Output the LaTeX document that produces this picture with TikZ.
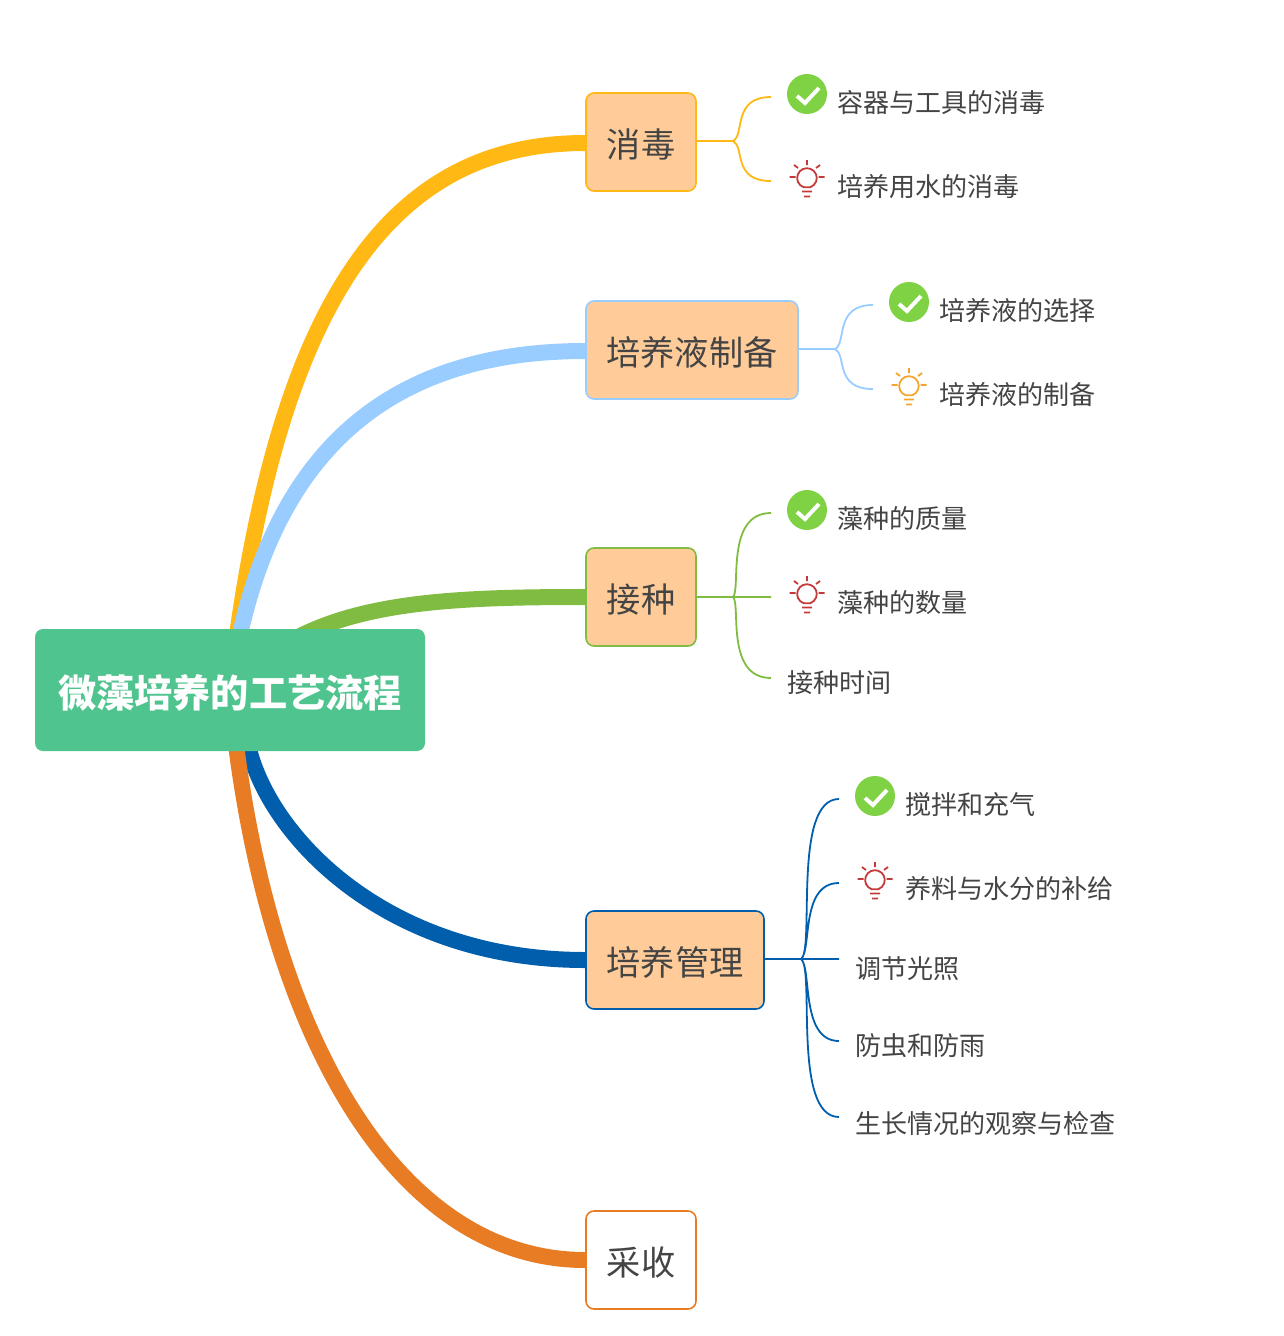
\documentclass[tikz,border=0pt]{standalone}
\usepackage{fontspec}
\setmainfont{Noto Sans CJK SC}
\usetikzlibrary{backgrounds}
\definecolor{cyel}{HTML}{FFB814}
\definecolor{cblu}{HTML}{99CCFF}
\definecolor{cgrn}{HTML}{80BC42}
\definecolor{cnav}{HTML}{005EAD}
\definecolor{corg}{HTML}{E87C25}
\definecolor{croot}{HTML}{50C48F}
\definecolor{cfill}{HTML}{FFCC99}
\definecolor{ctxt}{HTML}{444444}
\definecolor{cred}{HTML}{C43A3A}
\definecolor{camb}{HTML}{F5A52D}
\definecolor{cchk}{HTML}{7FD243}
\tikzset{
  rootbox/.style={fill=croot,text=white,rounded corners=8pt,minimum width=390pt,minimum height=122pt,inner sep=0pt,text height=35pt,text depth=0pt,font=\fontsize{38.2}{38}\selectfont\bfseries},
  topicbox/.style={draw=#1,fill=cfill,line width=1.6pt,rounded corners=8pt,minimum height=98pt,inner sep=0pt,text height=31pt,text depth=0pt,text=ctxt,font=\fontsize{34.2}{34}\selectfont},
  leaflabel/.style={anchor=west,inner sep=0pt,text=ctxt,font=\fontsize{26.05}{26}\selectfont},
  trunk/.style={draw=#1,line width=16pt},
  twig/.style={draw=#1,line width=1.8pt},
  pics/okmark/.style={code={
    \fill[cchk] (0,0) circle (20pt);
    \draw[white,line width=4pt] (-10,2) -- (-2,9) -- (12,-6);
  }},
  pics/lampmark/.style={code={
    \begin{scope}[draw=#1,line width=1.8pt]
    \draw (-3.4,9.2) arc[start angle=-110,end angle=-430,radius=9.8pt] -- cycle;
    \draw (0,-18) -- (0,-13) (-17.5,-1) -- (-11.5,-1) (11.5,-1) -- (17.5,-1)
      (-13,-13) -- (-9,-10) (13,-13) -- (9,-10)
      (-5,13.5) -- (5,13.5) (-3,18.5) -- (3,18.5);
    \end{scope}
  }}
}
\begin{document}
\begin{tikzpicture}[x=1pt,y=-1pt]
\useasboundingbox (0,0) rectangle (1284,1336);
\node[rootbox] (root) at (230,690) {微藻培养的工艺流程};
\node[topicbox=cyel,minimum width=110pt] (t1) at (641,142) {消毒};
\node[topicbox=cblu,minimum width=212pt] (t2) at (692,350) {培养液制备};
\node[topicbox=cgrn,minimum width=110pt] (t3) at (641,597) {接种};
\node[topicbox=cnav,minimum width=178pt] (t4) at (675,960) {培养管理};
\node[topicbox=corg,minimum width=110pt,fill=white] (t5) at (641,1260) {采收};
% leaves
\node[leaflabel] (a1) at (836.8,103) {容器与工具的消毒};
\node[leaflabel] (a2) at (836.8,187) {培养用水的消毒};
\node[leaflabel] (b1) at (938.8,311) {培养液的选择};
\node[leaflabel] (b2) at (938.8,395) {培养液的制备};
\node[leaflabel] (c1) at (836.8,519) {藻种的质量};
\node[leaflabel] (c2) at (836.8,603) {藻种的数量};
\node[leaflabel] (c3) at (786.8,683) {接种时间};
\node[leaflabel] (d1) at (904.8,805) {搅拌和充气};
\node[leaflabel] (d2) at (904.8,889) {养料与水分的补给};
\node[leaflabel] (d3) at (854.8,969) {调节光照};
\node[leaflabel] (d4) at (854.8,1046) {防虫和防雨};
\node[leaflabel] (d5) at (854.8,1123) {生长情况的观察与检查};
% icons
\pic at (807,94) {okmark};
\pic at (909,302) {okmark};
\pic at (807,510) {okmark};
\pic at (875,796) {okmark};
\pic at (807,178) {lampmark=cred};
\pic at (909,386) {lampmark=camb};
\pic at (807,594) {lampmark=cred};
\pic at (875,880) {lampmark=cred};
% twig junctions and ends
\coordinate (ja) at (733,141);
\coordinate (ea1) at (771,97);
\coordinate (ea2) at (771,181);
\coordinate (jb) at (835,349);
\coordinate (eb1) at (873,305);
\coordinate (eb2) at (873,389);
\coordinate (jc) at (733,597);
\coordinate (ec1) at (771,513);
\coordinate (ec2) at (771,597);
\coordinate (ec3) at (771,678);
\coordinate (jd) at (801,959);
\coordinate (ed1) at (839,799);
\coordinate (ed2) at (839,883);
\coordinate (ed3) at (839,959);
\coordinate (ed4) at (839,1041);
\coordinate (ed5) at (839,1117);
\draw[twig=cyel] (t1.east |- ja) -- (ja)
  (ja) .. controls (745,135) and (732,97) .. (ea1)
  (ja) .. controls (745,147) and (732,181) .. (ea2);
\draw[twig=cblu] (t2.east |- jb) -- (jb)
  (jb) .. controls (847,343) and (834,305) .. (eb1)
  (jb) .. controls (847,355) and (834,389) .. (eb2);
\draw[twig=cgrn] (t3.east |- jc) -- (jc) -- (ec2)
  (jc) .. controls (741,590) and (725,513) .. (ec1)
  (jc) .. controls (741,604) and (725,678) .. (ec3);
\draw[twig=cnav] (t4.east |- jd) -- (jd) -- (ed3)
  (jd) .. controls (815,950) and (792,799) .. (ed1)
  (jd) .. controls (812,950) and (800,883) .. (ed2)
  (jd) .. controls (812,968) and (800,1041) .. (ed4)
  (jd) .. controls (815,968) and (792,1117) .. (ed5);
% trunks
\coordinate (navstart) at (248,745);
\begin{scope}[on background layer]
\draw[trunk=cyel] (root.center) .. controls (275,300) and (390,143) .. (t1.west |- 0,143);
\draw[trunk=cblu] (root.center) .. controls (265,440) and (400,351) .. (t2.west |- 0,351);
\draw[trunk=cgrn] (root.center) .. controls (305,604) and (420,597) .. (t3.west);
\draw[trunk=cnav] (navstart) .. controls (268,835) and (385,960) .. (t4.west);
\draw[trunk=corg] (root.center) .. controls (260,1020) and (390,1260) .. (t5.west);
\end{scope}
\end{tikzpicture}
\end{document}
